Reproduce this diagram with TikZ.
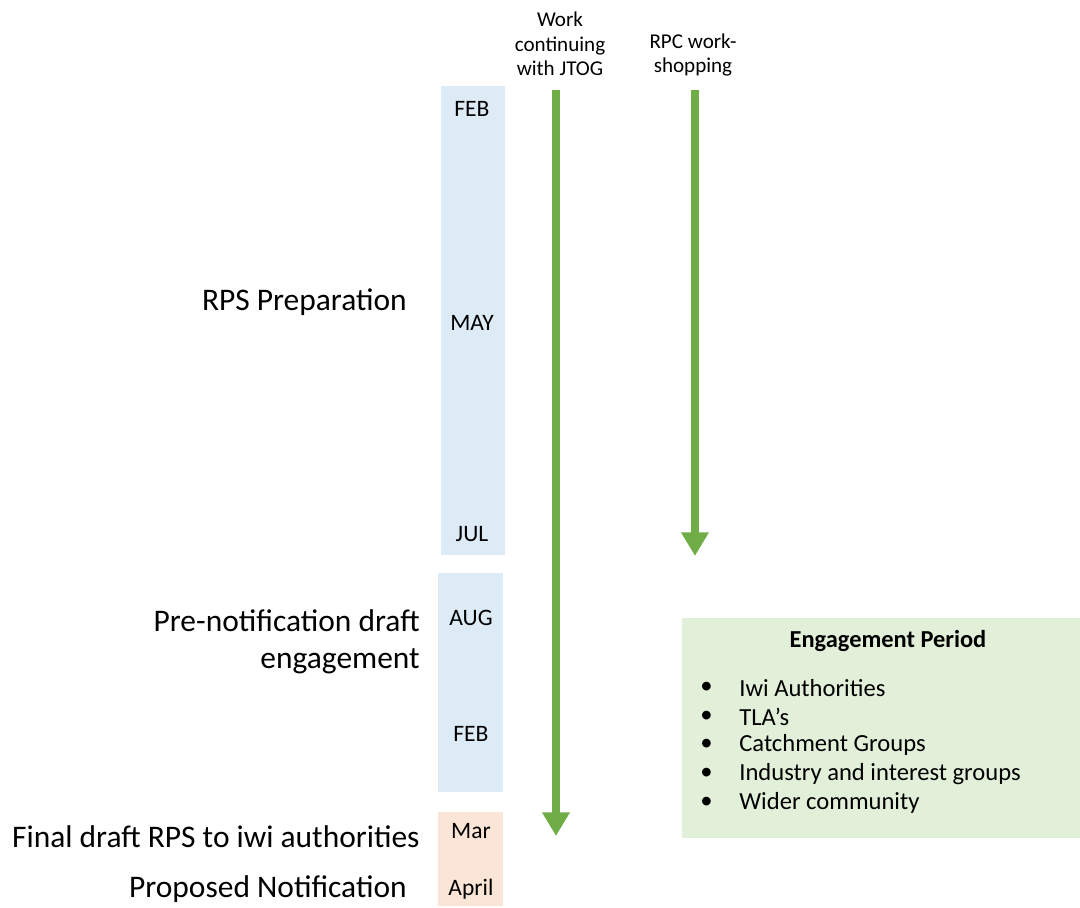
\documentclass[tikz,border=0pt]{standalone}
\usepackage{fontspec}
\setmainfont{Carlito}
\usetikzlibrary{positioning, arrows.meta}
\definecolor{phaseblue}{HTML}{DDEBF7}
\definecolor{phasepeach}{HTML}{FBE5D6}
\definecolor{engagegreen}{HTML}{E2F0D9}
\definecolor{arrowgreen}{HTML}{70AD47}
\tikzset{
    phase box/.style={rectangle, draw=none, inner sep=0pt},
    month node/.style={font=\fontsize{13.4}{15}\selectfont, inner sep=0pt},
    stage label/.style={font=\fontsize{17.9}{21}\selectfont, anchor=east, align=right, inner sep=0pt},
    track label/.style={font=\fontsize{12}{14}\selectfont, align=center, inner sep=0pt},
    track arrow/.style={draw=arrowgreen, line width=4.5pt, -{Triangle[width=15pt,length=13.5pt]}},
    item node/.style={font=\fontsize{14}{16}\selectfont, anchor=west, inner sep=0pt},
}

\begin{document}
\begin{tikzpicture}[x=0.02cm, y=-0.02cm]
    \useasboundingbox (0,0) rectangle (1080,908);
    % month columns
    \node[phase box, fill=phaseblue, minimum width=64*0.02cm, minimum height=469*0.02cm] (prep box) at (473,320.5) {};
    \node[phase box, fill=phaseblue, minimum width=65*0.02cm, minimum height=219*0.02cm] (draft box) at (470.5,682.5) {};
    \node[phase box, fill=phasepeach, minimum width=65*0.02cm, minimum height=94*0.02cm] (final box) at (470.5,859) {};
    \node[month node] (feb1) at (472,109) {FEB};
    \node[month node] (may) at (472,323) {MAY};
    \node[month node] (jul) at (472,534) {JUL};
    \node[month node] (aug) at (471,618) {AUG};
    \node[month node] (feb2) at (471,734) {FEB};
    \node[month node] (mar) at (471,831) {Mar};
    \node[month node] (apr) at (471,889) {April};
    % stages
    \node[stage label] (prep) at (407,302) {RPS Preparation};
    \node[stage label] (prenote) at (420,642) {Pre-notification draft\\engagement};
    \node[stage label] (final) at (420,837) {Final draft RPS to iwi authorities};
    \node[stage label] (notify) at (407,889) {Proposed Notification};
    % work streams
    \node[track label] (jtog) at (560,44) {Work\\continuing\\with JTOG};
    \node[track label] (rpc) at (693,55) {RPC work-\\shopping};
    \coordinate (jtog start) at (556,90);
    \coordinate (jtog end) at (556,836);
    \coordinate (rpc start) at (695,90);
    \coordinate (rpc end) at (695,556);
    \draw[track arrow] (jtog start) -- (jtog end);
    \draw[track arrow] (rpc start) -- (rpc end);
    % engagement period
    \node[phase box, fill=engagegreen, minimum width=398*0.02cm, minimum height=220*0.02cm] (engage) at (881,728) {};
    \node[font=\fontsize{13.9}{15}\selectfont\bfseries, inner sep=0pt] (engage title) at (888,641) {Engagement Period};
    \foreach \txt [count=\i] in {Iwi Authorities, TLA’s, Catchment Groups, Industry and interest groups, Wider community} {
        \node[item node] (bullet\i) at (700,659+28.75*\i) {•};
        \node[item node] (item\i) at (739,659+28.75*\i) {\txt};
    }
\end{tikzpicture}
\end{document}
